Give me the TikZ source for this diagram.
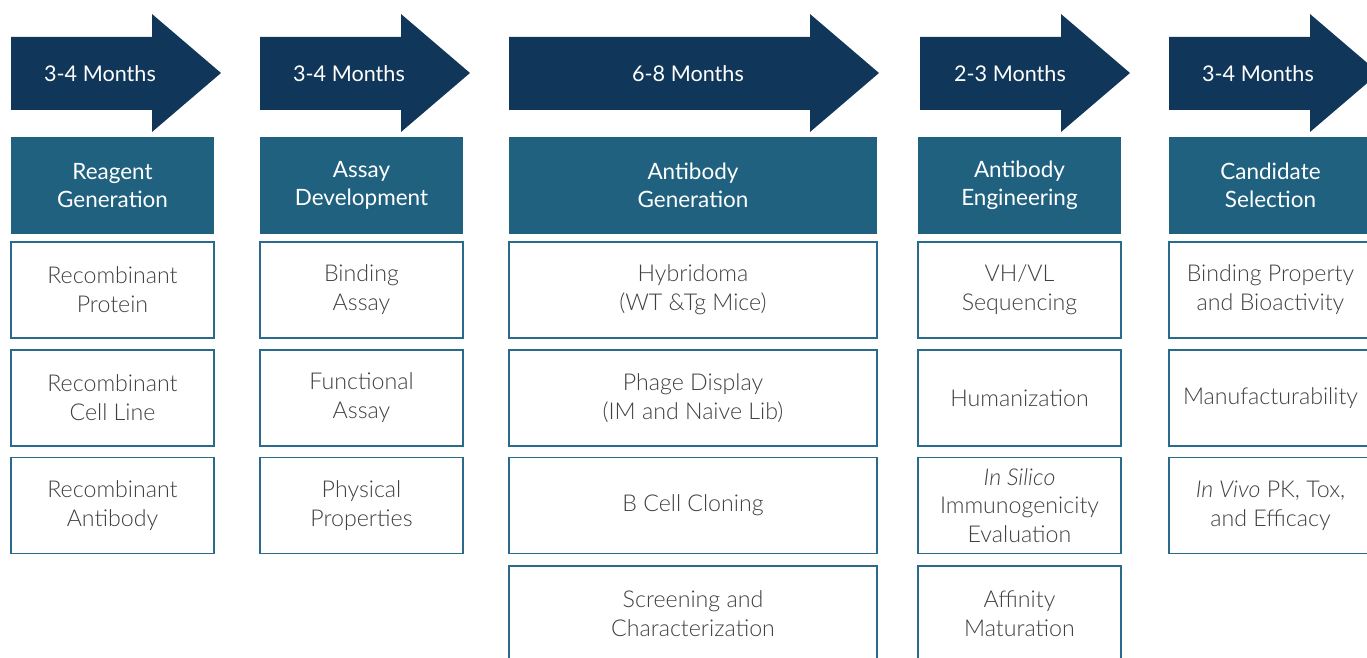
\documentclass[tikz,border=0pt]{standalone}
\usepackage{fontspec}
\setmainfont{Lato}
\newfontfamily\lightfont{Lato Light}
\definecolor{arrowblue}{HTML}{10375A}
\definecolor{headblue}{HTML}{20617F}
\definecolor{boxline}{HTML}{2A6A8A}
\definecolor{boxtext}{HTML}{404040}
\begin{document}
\begin{tikzpicture}[x=0.02cm, y=-0.02cm,
    phase/.style={fill=arrowblue},
    timelabel/.style={text=white, font=\fontsize{12.3}{15}\selectfont},
    headbox/.style={fill=headblue, minimum width=4.06cm, minimum height=1.94cm, inner sep=0pt,
        text=white, align=center, font=\fontsize{12.8}{16}\selectfont},
    taskbox/.style={draw=boxline, line width=0.7pt, fill=white, minimum width=4.06cm, minimum height=1.92cm,
        inner sep=0pt, text=boxtext, align=center, font=\lightfont\fontsize{13.2}{16.4}\selectfont}]
        \clip (0,0) rectangle (1367,658);

        % fleches de duree
        \fill[phase] (11,37) -- (152,37) -- (152,14) -- (221,73) -- (152,132) -- (152,110) -- (11,110) -- cycle;
        \node[timelabel] (t1) at (100,74) {3-4 Months};

        \fill[phase] (260,37) -- (401,37) -- (401,14) -- (470,73) -- (401,132) -- (401,110) -- (260,110) -- cycle;
        \node[timelabel] (t2) at (349,74) {3-4 Months};

        \fill[phase] (509,37) -- (810,37) -- (810,14) -- (879,73) -- (810,132) -- (810,110) -- (509,110) -- cycle;
        \node[timelabel] (t3) at (688,74) {6-8 Months};

        \fill[phase] (920,37) -- (1061,37) -- (1061,14) -- (1130,73) -- (1061,132) -- (1061,110) -- (920,110) -- cycle;
        \node[timelabel] (t4) at (1010,74) {2-3 Months};

        \fill[phase] (1169,37) -- (1310,37) -- (1310,14) -- (1379,73) -- (1310,132) -- (1310,110) -- (1169,110) -- cycle;
        \node[timelabel] (t5) at (1258,74) {3-4 Months};

        % titres des etapes
        \node[headbox] (h1) at (112.5,185.5) {Reagent\\Generation};
        \node[headbox] (h2) at (361.5,185.5) {Assay\\Development};
        \node[headbox, minimum width=7.36cm] (h3) at (693,185.5) {Antibody\\Generation};
        \node[headbox] (h4) at (1019.5,185.5) {Antibody\\Engineering};
        \node[headbox] (h5) at (1270.5,185.5) {Candidate\\Selection};

        % taches
        \node[taskbox] (r1a) at (112.5,290) {Recombinant\\Protein};
        \node[taskbox] (r1b) at (112.5,398) {Recombinant\\Cell Line};
        \node[taskbox] (r1c) at (112.5,505.5) {Recombinant\\Antibody};

        \node[taskbox] (a2a) at (361.5,290) {Binding\\Assay};
        \node[taskbox] (a2b) at (361.5,398) {Functional\\Assay};
        \node[taskbox] (a2c) at (361.5,505.5) {Physical\\Properties};

        \node[taskbox, minimum width=7.36cm] (g3a) at (693,290) {Hybridoma\\(WT \&Tg Mice)};
        \node[taskbox, minimum width=7.36cm] (g3b) at (693,398) {Phage Display\\(IM and Naive Lib)};
        \node[taskbox, minimum width=7.36cm] (g3c) at (693,505.5) {B Cell Cloning};
        \node[taskbox, minimum width=7.36cm] (g3d) at (693,614) {Screening and\\Characterization};

        \node[taskbox] (e4a) at (1019.5,290) {VH/VL\\Sequencing};
        \node[taskbox] (e4b) at (1019.5,398) {Humanization};
        \node[taskbox] (e4c) at (1019.5,505.5) {\textit{In Silico}\\Immunogenicity\\Evaluation};
        \node[taskbox] (e4d) at (1019.5,614) {Affinity\\Maturation};

        \node[taskbox] (s5a) at (1270.5,290) {Binding Property\\and Bioactivity};
        \node[taskbox] (s5b) at (1270.5,398) {Manufacturability};
        \node[taskbox] (s5c) at (1270.5,505.5) {\textit{In Vivo} PK, Tox,\\and Efficacy};

    \end{tikzpicture}
\end{document}
